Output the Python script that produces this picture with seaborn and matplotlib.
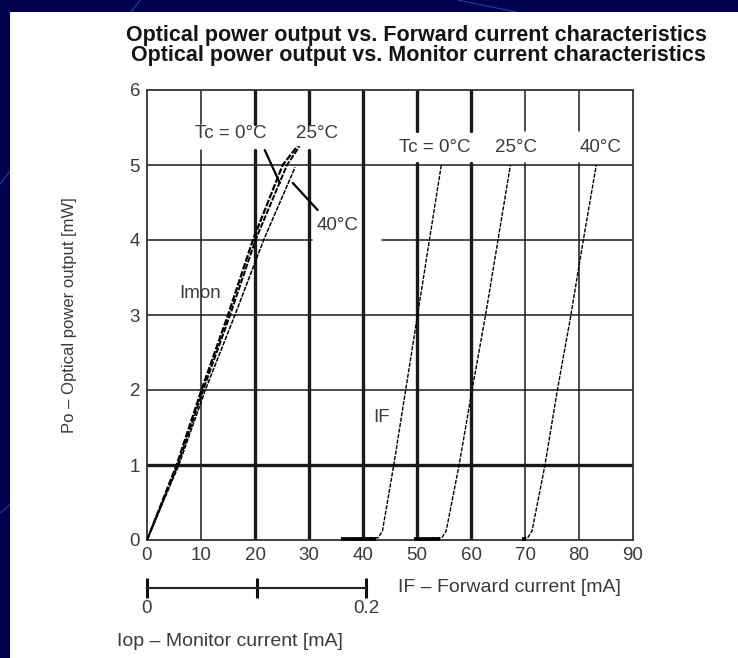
import numpy as np
import pandas as pd
import seaborn as sns
import matplotlib.pyplot as plt
from matplotlib.patches import Rectangle
from matplotlib.lines import Line2D

# forward current curves (IF in mA, Po in mW)
po_levels = [0, 1, 2, 3, 4, 5]
if_0c = [43.6, 45.7, 47.9, 50.1, 52.3, 54.5]
if_25c = [55.4, 57.8, 60.2, 62.7, 65.0, 67.3]
if_40c = [71.3, 73.7, 76.0, 78.5, 80.8, 83.2]
# flat (below threshold) part of each IF curve
flat_start = [36.0, 49.5, 69.5]

# monitor current curves (Iop in mA, Po in mW)
imon_po = [0, 1, 2, 3, 4, 5, 5.25]
imon_0c = [0, 0.0270, 0.0497, 0.0739, 0.0966, 0.1238, 0.1371]
imon_25c = [0, 0.0280, 0.0512, 0.0758, 0.0990, 0.1277, 0.1391]
imon_40c_po = [0, 1, 2, 3, 4, 4.97]
imon_40c = [0, 0.0290, 0.0532, 0.0802, 0.1064, 0.1351]

x_ticks = [0, 10, 20, 30, 40, 50, 60, 70, 80, 90]
y_ticks = [0, 1, 2, 3, 4, 5, 6]
mon_ticks = [0, 0.1, 0.2]
mon_labels = ["0", "", "0.2"]

sns.set_theme(style="white")
plt.rcParams["font.family"] = ["Liberation Sans", "DejaVu Sans"]

fig = plt.figure(figsize=(7.38, 6.58), dpi=100, facecolor="#000050")

# slide background decoration + white panel
for (x0, y0, x1, y1) in [(0.19, 1.0, 0.0, 0.72), (0.0, 0.22, 0.03, 0.25), (0.62, 1.0, 0.75, 0.97)]:
    fig.add_artist(Line2D([x0, x1], [y0, y1], transform=fig.transFigure, color="#3050b0",
                          lw=0.8, alpha=0.8, zorder=-2))
fig.add_artist(Rectangle((10 / 738, 0), 1, 1 - 12 / 658, transform=fig.transFigure,
                         facecolor="white", edgecolor="none", zorder=-1))

ax = fig.add_axes([147 / 738, 1 - 540 / 658, 486 / 738, 450 / 658])
ax.set_xlim(0, 90)
ax.set_ylim(0, 6)
ax.set_facecolor("none")

gridc = "#1a1a1a"
thick_x = [20, 30, 40, 50, 60]
gap_left = (5.2, 5.55)
gap_right = (5.03, 5.45)
for xv in x_ticks[1:-1]:
    lw = 2.4 if xv in thick_x else 1.1
    gap = gap_left if xv in (10, 20, 30) else gap_right if xv >= 50 else None
    if gap is None:
        ax.axvline(xv, color=gridc, lw=lw, zorder=1)
    else:
        ax.axvline(xv, 0, gap[0] / 6, color=gridc, lw=lw, zorder=1)
        ax.axvline(xv, gap[1] / 6, 1, color=gridc, lw=lw, zorder=1)
for yv in y_ticks[1:-1]:
    lw = 2.4 if yv == 1 else 1.1
    if yv == 4:
        ax.axhline(yv, 0, 30.6 / 90, color=gridc, lw=lw, zorder=1)
        ax.axhline(yv, 43.5 / 90, 1, color=gridc, lw=lw, zorder=1)
    else:
        ax.axhline(yv, color=gridc, lw=lw, zorder=1)
for s in ax.spines.values():
    s.set_color("#333333")
    s.set_linewidth(1.3)
    s.set_visible(True)

# IF curves
for fs, xs in zip(flat_start, [if_0c, if_25c, if_40c]):
    df = pd.DataFrame({"IF": [fs, xs[0] - 0.8] + xs, "Po": [0.02, 0.03] + po_levels})
    df.loc[2, "Po"] = 0.12
    sns.lineplot(data=df, x="IF", y="Po", ax=ax, sort=False, estimator=None, color="black",
                 lw=1.0, zorder=3, clip_on=False)
    ax.lines[-1].set_dashes([3, 1])
    ax.plot([fs, xs[0] - 1.2], [0.02, 0.02], color="black", lw=2.6, solid_capstyle="butt",
            clip_on=False, zorder=3)

# monitor current axis
ax2 = ax.twiny()
ax2.set_xlim(0, 90 * 0.2 / 40.6)
ax2.set_ylim(0, 6)
for name in ["top", "left", "right"]:
    ax2.spines[name].set_visible(False)
ax2.spines["bottom"].set_visible(True)
ax2.spines["bottom"].set_position(("outward", 34.5))
ax2.spines["bottom"].set_bounds(0, 0.2)
ax2.spines["bottom"].set_color("#222222")
ax2.spines["bottom"].set_linewidth(1.5)
ax2.xaxis.set_ticks_position("bottom")
ax2.set_xticks(mon_ticks)
ax2.set_xticklabels(mon_labels)
ax2.tick_params(axis="x", direction="inout", length=14, width=2.2, color="#111111",
                labelsize=13.5, labelcolor="#3a3a3a", pad=2)
for xs, ys, lw in [(imon_0c, imon_po, 1.6), (imon_25c, imon_po, 1.4), (imon_40c, imon_40c_po, 1.1)]:
    sns.lineplot(x=xs, y=ys, ax=ax2, sort=False, estimator=None, color="black", lw=lw, zorder=3)
    ax2.lines[-1].set_dashes([3, 0.8])

ax.set_xticks(x_ticks)
ax.set_yticks(y_ticks)
ax.tick_params(axis="both", length=0, labelsize=13.5, labelcolor="#3a3a3a", pad=5)
ax.set_xlabel("")
ax.set_ylabel("Po – Optical power output [mW]", fontsize=12, color="#3a3a3a", labelpad=38)

# curve annotations
tc = dict(fontsize=13.5, color="#3a3a3a", ha="center", va="center")
ax.text(15.5, 5.42, "Tc = 0°C", **tc)
ax.text(31.4, 5.42, "25°C", **tc)
ax.text(35.3, 4.2, "40°C", **tc)
ax.text(9.8, 3.29, "Imon", **tc)
ax.text(53.3, 5.24, "Tc = 0°C", **tc)
ax.text(68.3, 5.24, "25°C", **tc)
ax.text(84.0, 5.24, "40°C", **tc)
ax.text(43.5, 1.63, "IF", **tc)
ax.plot([21.8, 24.6], [5.2, 4.76], color="black", lw=1.6, zorder=3)
ax.plot([27.0, 31.6], [4.76, 4.4], color="black", lw=1.6, zorder=3)

fig.text(416 / 738, 1 - 36 / 658, "Optical power output vs. Forward current characteristics",
         ha="center", va="center", fontsize=15.5, fontweight="bold", color="#151515")
fig.text(418 / 738, 1 - 56 / 658, "Optical power output vs. Monitor current characteristics",
         ha="center", va="center", fontsize=15.5, fontweight="bold", color="#151515")
fig.text(398 / 738, 1 - 588 / 658, "IF – Forward current [mA]", ha="left", va="center",
         fontsize=14, color="#3a3a3a")
fig.text(117 / 738, 1 - 642 / 658, "Iop – Monitor current [mA]", ha="left", va="center",
         fontsize=14, color="#3a3a3a")

fig.savefig("out.png", dpi=100, facecolor=fig.get_facecolor())
